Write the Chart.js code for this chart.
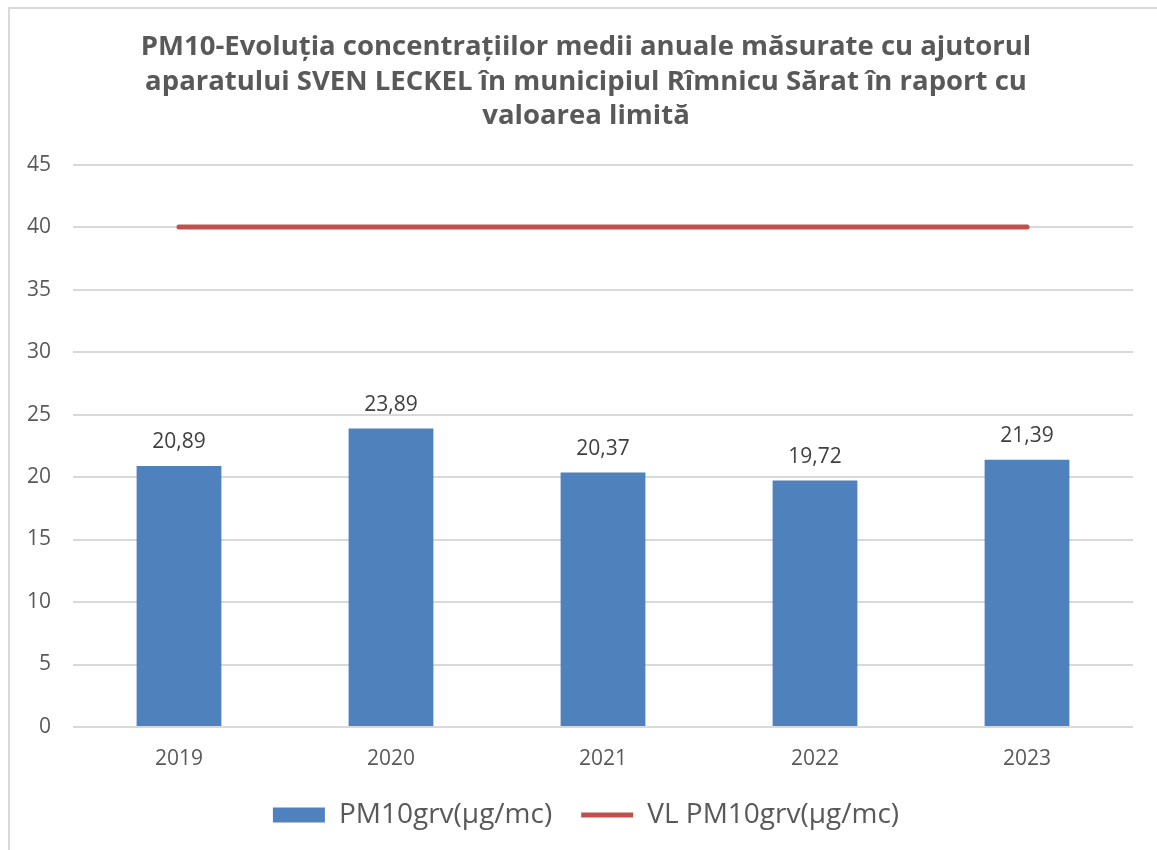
<!DOCTYPE html>
<html>
<head>
<meta charset="utf-8">
<script src="https://cdn.jsdelivr.net/npm/chart.js@4.4.1/dist/chart.umd.min.js"></script>
<style>
  html, body { margin: 0; padding: 0; background: #fff; overflow: hidden; }
  #frame { position: absolute; left: 8px; top: 7px; width: 1200px; height: 900px; border: 2px solid #D9D9D9; }
  #wrap { position: absolute; left: 0; top: 0; width: 1157px; height: 850px; }
</style>
</head>
<body>
<div id="frame"></div>
<div id="wrap"><canvas id="grafico"></canvas></div>
<script>
// datos del grafico
const anios = ['2019', '2020', '2021', '2022', '2023'];
const valoresPM10 = [20.89, 23.89, 20.37, 19.72, 21.39];
const valoresLimita = [40, 40, 40, 40, 40];
const ticksY = [0, 5, 10, 15, 20, 25, 30, 35, 40, 45];

const titulo = [
  'PM10-Evoluția concentrațiilor medii anuale măsurate cu ajutorul',
  'aparatului SVEN LECKEL în municipiul Rîmnicu Sărat în raport cu',
  'valoarea limită'
];

const gris = '#595959';

// etiquetas encima de las barras
const etiquetasBarras = {
  id: 'etiquetasBarras',
  afterDatasetsDraw(chart) {
    const ctx = chart.ctx;
    const meta = chart.getDatasetMeta(0);
    ctx.save();
    ctx.font = '21px "Open Sans"';
    ctx.fillStyle = '#404040';
    ctx.textAlign = 'center';
    ctx.textBaseline = 'bottom';
    meta.data.forEach((bar, i) => {
      const txt = valoresPM10[i].toFixed(2).replace('.', ',');
      ctx.fillText(txt, bar.x, bar.y - 13);
    });
    ctx.restore();
  }
};

const ctx = document.getElementById('grafico').getContext('2d');
new Chart(ctx, {
  type: 'bar',
  data: {
    labels: anios,
    datasets: [{
      type: 'bar',
      label: 'PM10grv(μg/mc)',
      data: valoresPM10,
      backgroundColor: '#4F81BD',
      borderWidth: 0,
      categoryPercentage: 1,
      barPercentage: 0.4,
      order: 2
    }, {
      type: 'line',
      label: 'VL PM10grv(μg/mc)',
      data: valoresLimita,
      borderColor: '#C0504D',
      backgroundColor: '#C0504D',
      borderWidth: 5,
      borderCapStyle: 'round',
      pointRadius: 0,
      fill: false,
      order: 1
    }]
  },
  options: {
    responsive: true,
    maintainAspectRatio: false,
    animation: false,
    layout: { padding: { left: 27, right: 12, top: 0, bottom: 11 } },
    scales: {
      x: {
        offset: true,
        grid: { display: false },
        border: { display: false },
        afterFit: (scale) => { scale.height = 45; },
        ticks: { color: gris, font: { family: 'Open Sans', size: 21 }, padding: 11 }
      },
      y: {
        min: 0,
        max: 45,
        afterBuildTicks: (scale) => { scale.ticks = ticksY.map(v => ({ value: v })); },
        afterFit: (scale) => { scale.width = 46; },
        grid: { color: '#D9D9D9', lineWidth: 2, drawTicks: false },
        border: { display: false },
        ticks: { color: gris, font: { family: 'Open Sans', size: 21 }, padding: 22 }
      },
      // eje vacio a la derecha, solo para dejar margen
      margenDerecho: {
        position: 'right',
        grid: { display: false },
        border: { display: false },
        ticks: { display: false },
        afterFit: (scale) => { scale.width = 12; }
      }
    },
    plugins: {
      title: {
        display: true,
        text: titulo,
        color: gris,
        font: { family: 'Open Sans', size: 27.5, weight: 'bold', lineHeight: 1.255 },
        padding: { top: 30, bottom: 31 }
      },
      legend: {
        position: 'bottom',
        labels: {
          color: gris,
          font: { family: 'Open Sans', size: 28 },
          boxWidth: 52,
          boxHeight: 15,
          padding: 29,
          generateLabels: (chart) => chart.data.datasets.map((ds, i) => ({
            text: ds.label,
            fillStyle: ds.backgroundColor,
            strokeStyle: ds.type === 'line' ? ds.borderColor : ds.backgroundColor,
            lineWidth: ds.type === 'line' ? 5 : 0,
            pointStyle: ds.type === 'line' ? 'line' : 'rect',
            fontColor: gris,
            datasetIndex: i
          })),
          usePointStyle: true,
          pointStyleWidth: 52
        }
      },
      tooltip: { enabled: false }
    }
  },
  plugins: [etiquetasBarras]
});
</script>
</body>
</html>
